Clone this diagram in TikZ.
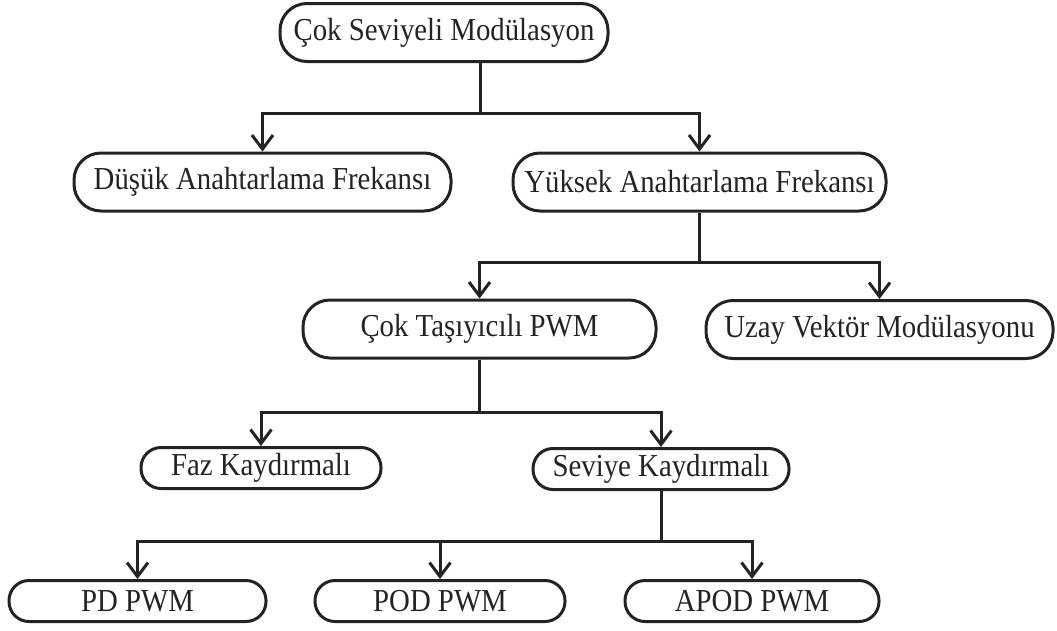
\documentclass[tikz,border=0pt]{standalone}
\usepackage{fontspec}
\setmainfont{Liberation Serif}[FakeStretch=0.9]
\usetikzlibrary{arrows.meta}
\definecolor{ink}{HTML}{232323}
\begin{document}
\begin{tikzpicture}[x=1pt,y=-1pt,
  lbl/.style={draw=ink, line width=3pt, inner sep=0pt, text=ink,
    font=\fontsize{32}{36}\selectfont},
  tallbox/.style={lbl, rounded corners=27pt, minimum height=58pt},
  shortbox/.style={lbl, rounded corners=20pt, minimum height=41pt},
  link/.style={line width=3pt, draw=ink},
  arr/.style={link, -{Straight Barb[length=14pt,width=21pt]}}]
\useasboundingbox (0,0) rectangle (1057,630);

% boxes
\node[tallbox, minimum width=328pt] (root) at (444,32.5) {Çok Seviyeli Modülasyon};
\node[tallbox, minimum width=377pt] (low) at (262.5,182) {Düşük Anahtarlama Frekansı};
\node[tallbox, minimum width=373pt] (high) at (699.5,182) {Yüksek Anahtarlama Frekansı};
\node[tallbox, minimum width=353pt] (mc) at (479.5,329) {Çok Taşıyıcılı PWM};
\node[tallbox, minimum width=347pt] (sv) at (879.5,329.5) {Uzay Vektör Modülasyonu};
\node[shortbox, minimum width=240pt] (ps) at (261,468) {Faz Kaydırmalı};
\node[shortbox, minimum width=256pt] (ls) at (661,469) {Seviye Kaydırmalı};
\node[shortbox, minimum width=257pt] (pd) at (137.5,601) {PD PWM};
\node[shortbox, minimum width=250pt] (pod) at (440,601) {POD PWM};
\node[shortbox, minimum width=254pt] (apod) at (752,601) {APOD PWM};

% branching points
\coordinate (j1) at (480,113);
\coordinate (j2) at (699.5,262);
\coordinate (j3) at (479.5,412);
\coordinate (j4) at (661,541);

% connectors
\draw[link] (root.south -| j1) -- (j1);
\draw[arr] (j1) -| (low.north);
\draw[arr] (j1) -| (high.north);

\draw[link] (high.south) -- (j2);
\draw[arr] (j2) -| (mc.north);
\draw[arr] (j2) -| (sv.north);

\draw[link] (mc.south) -- (j3);
\draw[arr] (j3) -| (ps.north);
\draw[arr] (j3) -| (ls.north);

\draw[link] (ls.south) -- (j4);
\draw[arr] (j4) -| (pd.north);
\draw[arr] (j4) -| (pod.north);
\draw[arr] (j4) -| (apod.north);
\end{tikzpicture}
\end{document}
